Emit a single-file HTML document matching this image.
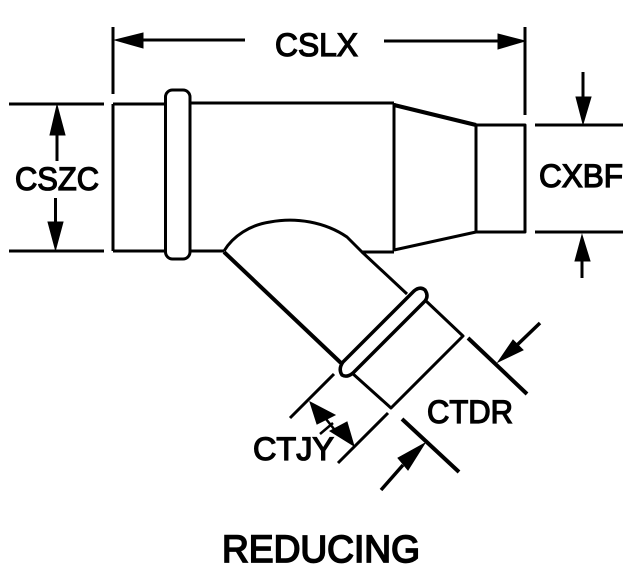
<!DOCTYPE html>
<html><head><meta charset="utf-8"><style>
html,body{margin:0;padding:0;background:#fff;width:629px;height:574px;overflow:hidden}
svg{display:block}
text{font-family:"Liberation Sans",sans-serif;font-size:32px;fill:#000;stroke:#000;stroke-width:1.300px}
</style></head><body>
<svg width="629" height="574" viewBox="0 0 629 574" xmlns="http://www.w3.org/2000/svg">
<g fill="none" stroke="#000" stroke-width="3" stroke-linecap="butt" stroke-linejoin="round">
<!-- main body -->
<path d="M190 103H394M113 104H165M113 251H165M190 251H224M362 252H394"/>
<path d="M113 104V251"/>
<rect x="165.500" y="90" width="24.500" height="169" rx="7"/>
<path d="M394 103V251"/>
<path d="M394 105L476 125" stroke-width="4"/>
<path d="M394 250L476 232"/>
<path d="M476 125H525V232H476Z"/>
<!-- branch -->
<path d="M224 251C233 236 250 225 270 222C296 217 325 222 347 237L362 252L407 294"/>
<path d="M224 252L341 363" stroke-width="4"/>
<path d="M343 362L414 291Q420 286 425 290Q429 296 425 301L353 373Q347 378 342 375Q338 369 343 362Z" stroke-width="3.500"/>
<path d="M425 300L463 336L391 408L352 373"/>
<!-- dimension lines -->
<path d="M113 27V94M525 27V115M9 104H104M9 251H104M535 125H623M535 232H623"/>
<path d="M143 40H245M384 41H498M57 135V161M55.500 198V225M583 72V97M582 261V278"/>
<path d="M290 418L334 374M338 463L388 413" />
<path d="M468 338L527 394M402 419L459 472" stroke-width="4"/>
<path d="M540 323L515 347M381 490L403 465" stroke-width="3.500"/>
<path d="M326 419L338 434M320 434L333 423" stroke-width="2.500"/>
</g>
<g fill="#000" stroke="#000" stroke-width="1" stroke-linejoin="miter">
<polygon points="115,40 143,33 143,48"/>
<polygon points="525,41 498,34 498,49"/>
<polygon points="57,105 50,135 65,135"/>
<polygon points="55.500,250 48,222 63,222"/>
<polygon points="583,124 576,97 591,97"/>
<polygon points="582,235 575,261 590,261"/>
<polygon points="498,362 513,340 523,350"/>
<polygon points="425,443 398,458 408,470"/>
<polygon points="310,402 335,415 317,424"/>
<polygon points="354,446 330,431 347,422"/>
</g>
<text x="275" y="56" textLength="83" lengthAdjust="spacingAndGlyphs">CSLX</text>
<text x="15" y="190" textLength="84" lengthAdjust="spacingAndGlyphs">CSZC</text>
<text x="539" y="187" textLength="84" lengthAdjust="spacingAndGlyphs">CXBF</text>
<text x="427" y="423" textLength="86" lengthAdjust="spacingAndGlyphs">CTDR</text>
<text x="253" y="460" textLength="81" lengthAdjust="spacingAndGlyphs">CTJY</text>
<text x="222" y="562" textLength="198" lengthAdjust="spacingAndGlyphs" style="font-size:38px;stroke-width:1.700px">REDUCING</text>
</svg>
</body></html>
